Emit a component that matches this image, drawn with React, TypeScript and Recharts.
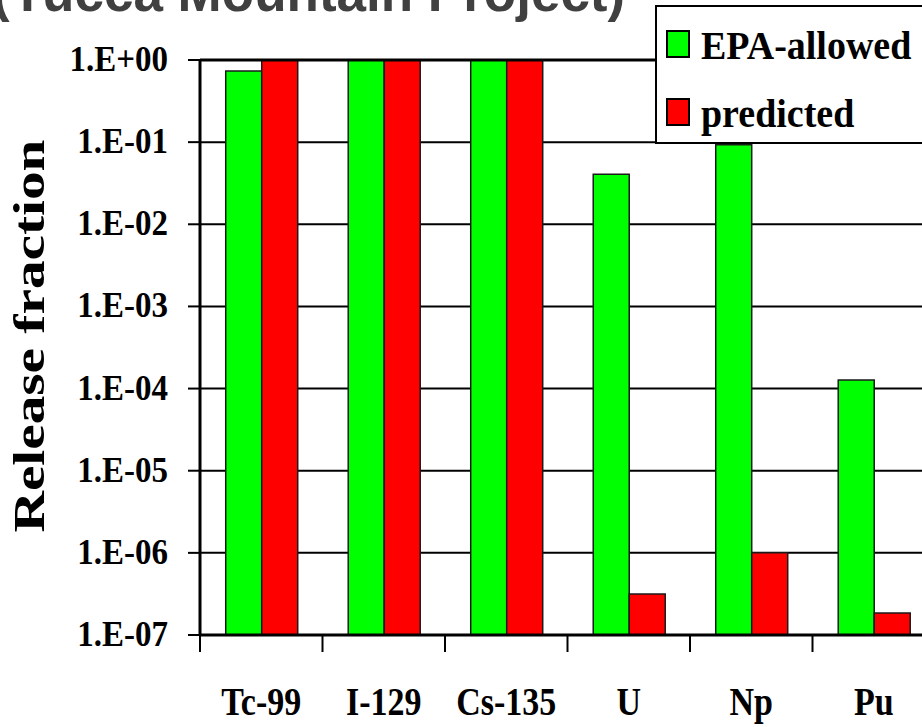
import React from 'react';
import { BarChart, Bar, XAxis, YAxis, CartesianGrid, ReferenceLine } from 'recharts';

const nuclides = ['Tc-99', 'I-129', 'Cs-135', 'U', 'Np', 'Pu'];
const epaAllowed = [0.735, 1, 1, 0.0406, 0.093, 1.27e-4];
const predicted = [1, 1, 1, 3.15e-7, 1e-6, 1.85e-7];
const yTicks = [1, 1e-1, 1e-2, 1e-3, 1e-4, 1e-5, 1e-6, 1e-7];

const series = [
  { key: 'epa', name: 'EPA-allowed', color: '#00FF00' },
  { key: 'predicted', name: 'predicted', color: '#FF0000' },
];

const data = nuclides.map((name, i) => ({ name, epa: epaAllowed[i], predicted: predicted[i] }));

const serif = 'Liberation Serif, Times New Roman, Times, serif';
const sans = 'Liberation Sans, Arial, sans-serif';

const fmt = (v: number) => {
  const e = Math.round(Math.log10(v));
  return `1.E${e < 0 ? '-' : '+'}${String(Math.abs(e)).padStart(2, '0')}`;
};

const YTick = (props: any) => {
  const { x, y, payload } = props;
  return (
    <text
      transform={`translate(${x},${y + 11}) scale(1,1.08)`}
      textAnchor="end"
      style={{ fontFamily: serif, fontWeight: 'bold', fontSize: 33 }}
      fill="#000"
    >
      {fmt(payload.value)}
    </text>
  );
};

const XTick = (props: any) => {
  const { x, y, payload } = props;
  const half = payload && payload.offset ? payload.offset : 61.25;
  return (
    <g>
      <line x1={x - half} x2={x - half} y1={y} y2={y + 17} stroke="#000" strokeWidth={2} />
      <text
        transform={`translate(${x},${y + 80}) scale(1,1.18)`}
        textAnchor="middle"
        style={{ fontFamily: serif, fontWeight: 'bold', fontSize: 34 }}
        fill="#000"
      >
        {payload.value}
      </text>
    </g>
  );
};

export default function App() {
  return (
    <div style={{ position: 'absolute', left: 0, top: 0, width: 922, height: 727, overflow: 'hidden', background: '#fff' }}>
      <BarChart
        width={940}
        height={727}
        data={data}
        margin={{ top: 60, right: 5, left: 0, bottom: 0 }}
        barGap={0}
        barCategoryGap="21%"
      >
        <CartesianGrid vertical={false} stroke="#000" strokeWidth={2} />
        <XAxis
          dataKey="name"
          height={92}
          interval={0}
          tickSize={0}
          tickMargin={0}
          tickLine={false}
          axisLine={{ stroke: '#000', strokeWidth: 3 }}
          tick={<XTick />}
        />
        <YAxis
          scale="log"
          domain={[1e-7, 1]}
          ticks={yTicks}
          interval={0}
          width={200}
          tickSize={12}
          tickMargin={20}
          axisLine={{ stroke: '#000', strokeWidth: 3 }}
          tickLine={{ stroke: '#000', strokeWidth: 2 }}
          tick={<YTick />}
        />
        <ReferenceLine y={1} stroke="#000" strokeWidth={3} />
        {series.map(s => (
          <Bar key={s.key} dataKey={s.key} name={s.name} fill={s.color} stroke="#1a1a1a" strokeWidth={1.5} isAnimationActive={false} />
        ))}
      </BarChart>
      <svg width={922} height={727} style={{ position: 'absolute', left: 0, top: 0, pointerEvents: 'none' }}>
        <text x={-8} y={11} style={{ fontFamily: sans, fontWeight: 'bold', fontSize: 53 }} fill="#404040">
          (Yucca Mountain Project)
        </text>
        <text
          transform="translate(44,336) rotate(-90)"
          textAnchor="middle"
          style={{ fontFamily: serif, fontWeight: 'bold', fontSize: 45 }}
          fill="#000"
          textLength={393}
          lengthAdjust="spacingAndGlyphs"
        >
          Release fraction
        </text>
        <rect x={656} y={6} width={300} height={137} fill="#fff" stroke="#000" strokeWidth={2} />
        {series.map((s, i) => (
          <g key={s.key}>
            <rect x={667} y={31 + i * 68} width={22} height={26} fill={s.color} stroke="#000" strokeWidth={2} />
            <text
              transform={`translate(701,${59 + i * 68}) scale(1,1.08)`}
              style={{ fontFamily: serif, fontWeight: 'bold', fontSize: 38 }}
              fill="#000"
            >
              {s.name}
            </text>
          </g>
        ))}
      </svg>
    </div>
  );
}
